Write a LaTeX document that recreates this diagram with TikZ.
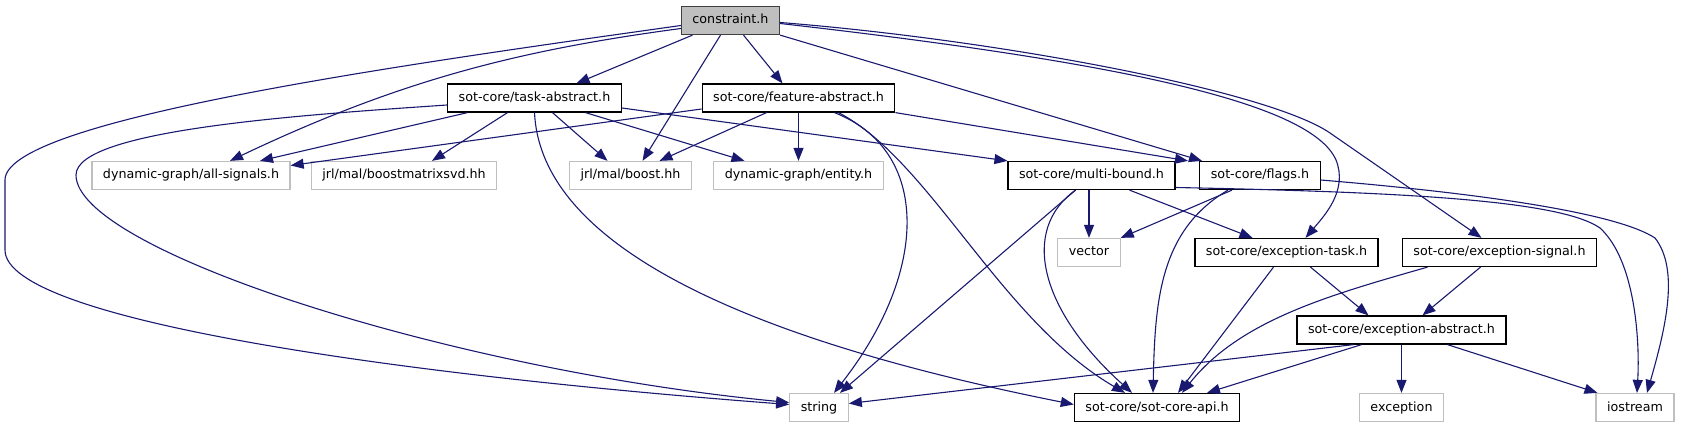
\documentclass[tikz,border=0pt]{standalone}
\usepackage{fontspec}
\setmainfont{DejaVu Sans}
\usepackage{xcolor}
\usetikzlibrary{arrows.meta}
\definecolor{edgeblue}{HTML}{191970}
\definecolor{sysgray}{HTML}{BFBFBF}
\definecolor{rootfill}{HTML}{BFBFBF}
\definecolor{rootline}{HTML}{404040}

\begin{document}
\begin{tikzpicture}[x=1pt,y=-1pt,font=\fontsize{12.7}{15}\selectfont,
  file/.style={draw=black,fill=white,line width=1.25pt,minimum height=28pt,inner xsep=11pt,inner ysep=0pt,text height=9.5pt,text depth=2.5pt},
  sysfile/.style={file,draw=sysgray},
  root/.style={file,draw=rootline,fill=rootfill},
  dep/.style={draw=edgeblue,line width=1.1pt,-{Triangle[length=13pt,width=10pt]}}]
  \useasboundingbox (0,0) rectangle (1692,427);
  \node[root] (constraint) at (730.5,20.5) {constraint.h};
  \node[file] (task) at (534.5,98) {sot-core/task-abstract.h};
  \node[file] (feature) at (798.5,98) {sot-core/feature-abstract.h};
  \node[sysfile] (allsignals) at (191,175.5) {dynamic-graph/all-signals.h};
  \node[sysfile] (svd) at (404,175.5) {jrl/mal/boostmatrixsvd.hh};
  \node[sysfile] (boosthh) at (630.5,175.5) {jrl/mal/boost.hh};
  \node[sysfile] (entity) at (798.5,175.5) {dynamic-graph/entity.h};
  \node[file] (multibound) at (1091.5,175.5) {sot-core/multi-bound.h};
  \node[file] (flags) at (1260,175.5) {sot-core/flags.h};
  \node[sysfile] (vector) at (1089,252.5) {vector};
  \node[file] (exctask) at (1286.5,252.5) {sot-core/exception-task.h};
  \node[file] (excsig) at (1499.5,252.5) {sot-core/exception-signal.h};
  \node[file] (excabs) at (1401.5,330) {sot-core/exception-abstract.h};
  \node[sysfile] (string) at (819,407.5) {string};
  \node[file] (api) at (1157,407.5) {sot-core/sot-core-api.h};
  \node[sysfile] (exception) at (1401.5,407.5) {exception};
  \node[sysfile] (iostream) at (1635,407.5) {iostream};

  \draw[dep] ([xshift=-38pt]constraint.south) -- ([xshift=42pt]task.north);
  \draw[dep] ([xshift=-10pt]constraint.south) -- ([xshift=12pt]boosthh.north);
  \draw[dep] ([xshift=13pt]constraint.south) -- ([xshift=-16pt]feature.north);
  \draw[dep] (constraint.south east) -- ([xshift=-58pt]flags.north);
  \draw[dep] ([yshift=-3pt]constraint.east) .. controls (1100,60) and (1310,100) .. (1336,160) .. controls (1348,190) and (1325,215) .. ([xshift=19pt]exctask.north);
  \draw[dep] ([yshift=-2pt]constraint.east) .. controls (1000,40) and (1269,91) .. (1330,133) -- ([xshift=-18pt]excsig.north);
  \draw[dep] ([yshift=-5pt]constraint.west) .. controls (400,65) and (5,120) .. (5,180) -- (5,250) .. controls (5,320) and (400,375) .. ([yshift=3pt]string.west);
  \draw[dep] ([yshift=-8pt]constraint.west) .. controls (520,50) and (400,80) .. ([xshift=39pt]allsignals.north);

  \draw[dep] ([xshift=-67pt]task.south) -- ([xshift=69pt]allsignals.north);
  \draw[dep] ([xshift=-27pt]task.south) -- ([xshift=28pt]svd.north);
  \draw[dep] ([xshift=18pt]task.south) -- ([xshift=-23pt]boosthh.north);
  \draw[dep] ([xshift=51pt]task.south) -- ([xshift=-54pt]entity.north);
  \draw[dep] ([yshift=-10pt]task.east) -- (multibound.north west);
  \draw[dep] ([yshift=-7pt]task.west) .. controls (300,115) and (76,130) .. (76,175) .. controls (76,250) and (450,370) .. ([yshift=5pt]string.west);
  \draw[dep] (task.south) .. controls (540,230) and (700,330) .. ([yshift=3pt]api.west);

  \draw[dep] ([yshift=-11pt]feature.west) -- ([yshift=10pt]allsignals.east);
  \draw[dep] ([xshift=-32pt]feature.south) -- ([xshift=29pt]boosthh.north);
  \draw[dep] (feature.south) -- (entity.north);
  \draw[dep] ([xshift=36pt]feature.south) .. controls (930,150) and (930,270) .. ([xshift=15pt]string.north);
  \draw[dep] ([xshift=40pt]feature.south) .. controls (930,160) and (1000,320) .. ([xshift=-32pt]api.north);
  \draw[dep] (feature.south east) -- ([xshift=-72pt]flags.north);

  \draw[dep] (vector.north |- multibound.south) -- (vector.north);
  \draw[dep] ([xshift=-16pt]multibound.south) -- ([xshift=21pt]string.north);
  \draw[dep] ([xshift=-16pt]multibound.south) .. controls (1020,230) and (1040,310) .. ([xshift=-25pt]api.north);
  \draw[dep] ([xshift=38pt]multibound.south) -- ([xshift=-34pt]exctask.north);
  \draw[dep] ([yshift=-12pt]multibound.east) .. controls (1400,192) and (1560,200) .. (1600,228) .. controls (1635,260) and (1640,340) .. ([xshift=2pt]iostream.north);

  \draw[dep] ([xshift=-28pt]flags.south) -- (vector.north east);
  \draw[dep] ([xshift=-32pt]flags.south) .. controls (1160,230) and (1155,300) .. ([xshift=-4pt]api.north);
  \draw[dep] ([yshift=-4.5pt]flags.east) .. controls (1500,195) and (1620,215) .. (1655,238) .. controls (1680,270) and (1665,330) .. ([xshift=12pt]iostream.north);

  \draw[dep] ([xshift=-13pt]exctask.south) -- ([xshift=21pt]api.north);
  \draw[dep] ([xshift=24pt]exctask.south) -- ([xshift=-33pt]excabs.north);

  \draw[dep] ([xshift=-72pt]excsig.south) .. controls (1330,295) and (1240,320) .. ([xshift=25pt]api.north);
  \draw[dep] ([xshift=-19pt]excsig.south) -- ([xshift=21pt]excabs.north);

  \draw[dep] ([xshift=-48pt]excabs.south) -- ([yshift=4pt]string.east);
  \draw[dep] ([xshift=-40pt]excabs.south) -- ([xshift=50pt]api.north);
  \draw[dep] (excabs.south) -- (exception.north);
  \draw[dep] ([xshift=46pt]excabs.south) -- ([xshift=2pt]iostream.north west);
\end{tikzpicture}
\end{document}
